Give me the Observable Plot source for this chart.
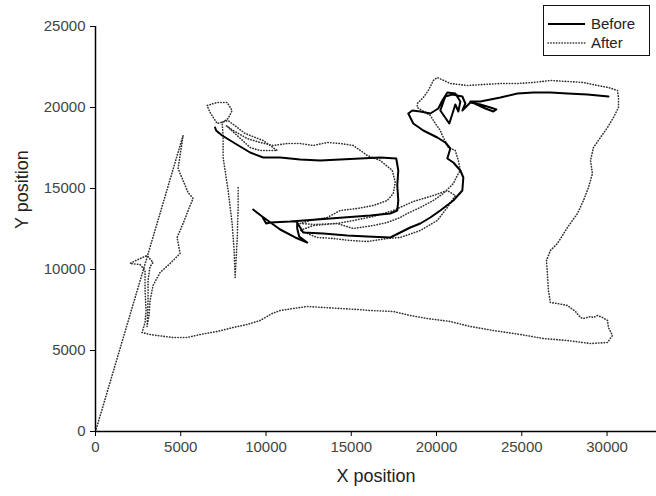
<!DOCTYPE html>
<html>
<head>
<meta charset="utf-8">
<script src="https://cdn.jsdelivr.net/npm/d3@7"></script>
<script src="https://cdn.jsdelivr.net/npm/@observablehq/plot@0.6"></script>
<style>
  body { margin: 0; background: #fff; }
  #chart { position: relative; width: 656px; height: 496px; font-family: "Liberation Sans", Arial, sans-serif; }
  #legend { position: absolute; left: 543px; top: 5px; width: 105px; height: 49px; border: 1.3px solid #111; background: #fff; }
</style>
</head>
<body>
<div id="chart"></div>
<script>
// Series names
const seriesNames = ["Before", "After"];

// "Before" trajectory (solid)
const beforeX = [7015,7073,7426,8189,9069,9832,10830,12004,13178,14352,15526,16700,17639,17757,17698,17757,17698,17287,16113,13765,11417,10243,10008,9774,9245,9774,10830,11711,12415,11945,11828,11828,12180,13354,14763,15937,17287,17874,18461,19048,19635,20222,20985,21514,21572,21396,20985,20633,20809,20516,20046,19224,18637,18344,18579,19048,19635,20105,20340,20633,21103,21396,21279,21103,20750,20222,20516,20927,21514,21690,21514,21983,22570,23157,23509,23333,22864,21983,22570,23744,24742,25681,26679,27677,28851,30084];
const beforeY = [18766,18581,18272,17778,17223,16914,16914,16790,16729,16790,16852,16914,16852,16112,15186,14260,13642,13457,13334,13148,12963,12902,12840,13272,13704,13272,12469,11976,11667,12037,12531,12902,12284,12223,12099,12037,11976,12284,12593,12840,13210,13642,14260,14877,15679,16112,16605,16852,17470,17840,18149,18581,19013,19630,19815,19754,19630,19939,20433,20926,20865,20371,19754,20186,19013,19815,20680,20803,20680,20247,19815,20309,20186,20000,19877,19754,19939,20371,20371,20618,20865,20926,20926,20865,20803,20680];

// "After" trajectory (dotted)
const afterX = [0,5136,4843,5430,5723,5547,5136,4784,4960,4373,3786,3375,3199,3140,3023,3082,3082,3199,3375,3023,2495,2025,2612,2906,2906,2964,2906,2730,3199,3610,4549,5371,6134,7132,8071,8893,9656,10361,10830,11593,12415,13354,14352,15350,16113,17463,18461,19459,20809,21983,23333,24918,26268,27677,29027,30025,30319,30084,30025,29732,29438,29203,29027,28616,28440,28146,27677,27090,26679,26562,26503,26444,26679,27090,27677,28264,28616,28910,29144,29027,29203,29614,30025,30377,30671,30671,30613,30084,29438,28616,27677,26679,25681,24742,23744,22746,21807,20809,20046,19811,19518,19224,18872,18872,19635,19929,20222,20340,20692,21103,21279,21396,21279,20985,20398,19811,19048,18285,17874,17111,16289,15115,14176,12767,12004,13002,13941,14939,15937,17111,17874,19048,20046,20633,21103,20633,19811,18637,17463,16289,15115,14176,12885,12004,12591,13589,14352,15350,16289,17111,17463,17581,17405,16700,15937,15702,15115,14352,13589,12767,12004,11241,10419,9656,8893,8071,7660,8306,9069,9656,10654,9832,8776,7778,7132,6721,6545,7132,7719,8013,7778,7426,7484,7484,7778,8013,8130,8189,8306,8365,8365];
const afterY = [0,18272,16235,14753,14383,13951,12840,11976,10988,10371,9815,9013,8087,7161,6482,8087,9321,10185,10432,10864,10618,10371,10309,9939,8704,7469,6729,6111,5988,5926,5803,5803,5988,6173,6420,6605,6852,7284,7469,7593,7716,7655,7593,7531,7469,7408,7161,6975,6790,6482,6235,5988,5741,5617,5432,5494,5926,6420,6852,7037,7161,7037,7099,6975,7037,7408,7778,7901,7963,8704,9753,10556,11173,11605,12593,13457,14260,15062,15926,16729,17531,18149,18766,19383,20000,20618,21050,21235,21359,21544,21606,21667,21544,21482,21482,21420,21359,21482,21852,21667,21050,20618,20247,20000,19507,19013,18581,18272,17531,17346,16729,16112,15926,15309,14692,14260,13828,13457,13210,12902,12716,12531,12840,12716,12408,11976,11914,11790,11729,11914,11976,12408,13025,13828,14568,14877,14568,14198,13642,13272,13025,12840,12778,12840,13025,13210,13642,13766,13951,14260,14692,15371,16112,16729,17038,17223,17655,17778,17840,17655,17778,17778,17655,17840,18087,18581,18889,18272,17531,17346,17346,17963,18396,19198,19013,19692,20124,20309,20309,19815,19321,19074,18272,16914,14877,12840,11173,9506,11790,13828,15186];

// Axis ticks
const xTicks = [0, 5000, 10000, 15000, 20000, 25000, 30000];
const yTicks = [0, 5000, 10000, 15000, 20000, 25000];
const xLabel = "X position";
const yLabel = "Y position";

const before = beforeX.map((x, i) => ({x, y: beforeY[i]}));
const after = afterX.map((x, i) => ({x, y: afterY[i]}));

const dotted = "0.4,2.4";

const plot = Plot.plot({
  width: 656,
  height: 496,
  marginLeft: 95,
  marginRight: 0,
  marginTop: 26,
  marginBottom: 65,
  style: {fontFamily: "'Liberation Sans', Arial, sans-serif", fontSize: "15px", background: "#fff"},
  x: {domain: [0, 32900]},
  y: {domain: [0, 25000]},
  marks: [
    Plot.line(after, {x: "x", y: "y", stroke: "#333", strokeWidth: 1.6, strokeDasharray: dotted, strokeLinecap: "round"}),
    Plot.line(before, {x: "x", y: "y", stroke: "#000", strokeWidth: 2}),
    Plot.axisX({ticks: xTicks, tickSize: 5, tickPadding: 5, label: null, tickFormat: d => String(d), stroke: "#000", fill: "#444", fontSize: 15}),
    Plot.axisY({ticks: yTicks, tickSize: 5, tickPadding: 5, label: null, tickFormat: d => String(d), stroke: "#000", fill: "#444", fontSize: 15}),
    Plot.ruleX([0], {stroke: "#000", strokeWidth: 1.5}),
    Plot.ruleY([0], {stroke: "#000", strokeWidth: 1.5}),
    Plot.text([xLabel], {frameAnchor: "bottom", dy: 50, fontSize: 18, fill: "#222"}),
    Plot.text([yLabel], {frameAnchor: "left", dx: -73, rotate: -90, fontSize: 18, fill: "#222"})
  ]
});

const chart = document.getElementById("chart");
chart.appendChild(plot);

// Legend overlay
const legend = d3.select(chart).append("div").attr("id", "legend");
const lsvg = legend.append("svg").attr("width", 105).attr("height", 49)
  .style("font-family", "'Liberation Sans', Arial, sans-serif");
seriesNames.forEach((name, i) => {
  const y = 18 + i * 19;
  lsvg.append("line").attr("x1", 4).attr("x2", 41).attr("y1", y).attr("y2", y)
    .attr("stroke", i === 0 ? "#000" : "#333")
    .attr("stroke-width", i === 0 ? 2 : 1.6)
    .attr("stroke-linecap", i === 0 ? "butt" : "round")
    .attr("stroke-dasharray", i === 0 ? null : dotted);
  lsvg.append("text").attr("x", 47).attr("y", y + 5).attr("font-size", 15).attr("fill", "#222").text(name);
});
</script>
</body>
</html>
